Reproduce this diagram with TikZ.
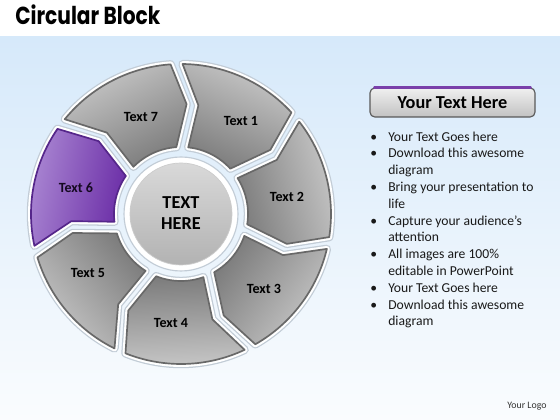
\documentclass[tikz,border=0pt]{standalone}
\usepackage{fontspec}
\setmainfont{Carlito}
\newfontfamily\titlefont{Poppins}

\definecolor{bgtop}{HTML}{D6E9FA}
\definecolor{bgbot}{HTML}{FAFCFE}
\definecolor{seglight}{HTML}{C8C8C8}
\definecolor{segdark}{HTML}{7C7C7C}
\definecolor{segline}{HTML}{686868}
\definecolor{purlight}{HTML}{AC8AD4}
\definecolor{purdark}{HTML}{6A2CA6}
\definecolor{purline}{HTML}{55268A}
\definecolor{glow}{HTML}{C2CCD6}
\definecolor{hdrline}{HTML}{7A40AA}

\tikzset{
  grayseg/.style={draw=segline, line width=1.2pt, top color=seglight, bottom color=segdark},
  purpleseg/.style={draw=purline, line width=1.2pt, top color=purlight, bottom color=purdark},
  seglabel/.style={font=\bfseries\fontsize{10}{12}\selectfont},
  hdrbox/.style={draw=black!65, line width=0.8pt, rounded corners=1.2mm,
    top color=black!6, bottom color=black!24,
    minimum width=41.25mm, minimum height=7.25mm,
    font=\bfseries\fontsize{13}{15}\selectfont},
}

\begin{document}
\begin{tikzpicture}[x=0.25mm, y=0.25mm]
  \useasboundingbox (0,0) rectangle (560,420);

  % 背景
  \fill[white] (0,0) rectangle (560,420);
  \shade[top color=bgtop, bottom color=bgbot] (0,0) rectangle (560,383);

  % 标题
  \node[anchor=base west, inner sep=0] (title) at (15,395)
    {\scalebox{0.82}[1]{\titlefont\bfseries\fontsize{17.5}{19}\selectfont Circular Block}};

  % 七个箭头块
  \begin{scope}[shift={(181,206)}]
    \foreach \i/\sty in {1/grayseg,2/grayseg,3/grayseg,4/grayseg,5/grayseg,6/purpleseg,7/grayseg} {
      \pgfmathsetmacro\A{91.7-51.43*(\i-1)}
      \pgfmathsetmacro\B{\A-51.43}
      \pgfmathsetmacro\sa{\A-25.7-90}
      \def\segpath{({\A-2.3}:150) arc[start angle={\A-2.3}, end angle={\B+2.3}, radius=150]
        -- ({\B-4.6}:110) -- ({\B+2.3}:67)
        arc[start angle={\B+2.3}, end angle={\A-7.9}, radius=67]
        -- ({\A-10.8}:110) -- cycle}
      \draw[glow, line width=6pt, line join=round] \segpath;
      \draw[white, line width=4.2pt, line join=round] \segpath;
      \path[\sty, shading angle=\sa, line join=round] \segpath;
    }

    \foreach \i/\x/\y/\c in {1/60/93/black, 2/106/17/black, 3/83/-75/black, 4/-10/-109/black,
                             5/-93/-59/black, 6/-105/26/{black!80!purdark}, 7/-40/97/black}
      \node[seglabel, text=\c] (t\i) at (\x,\y) {Text \i};

    % 中心圆
    \draw[glow, line width=0.8pt, fill=white] (0,0) circle[radius=57];
    \draw[black!20, line width=0.5pt, top color=black!15, bottom color=black!30]
      (0,0) circle[radius=51];
    \node[align=center, font=\bfseries\fontsize{13}{15}\selectfont] (ctr) at (0,1) {TEXT\\HERE};
  \end{scope}

  % 右侧文字
  \node[hdrbox] (hdr) at (452.5,317.5) {Your Text Here};
  \draw[hdrline, line width=1.6pt, line cap=round]
    ([xshift=1.2mm]hdr.north west) -- ([xshift=-1.2mm]hdr.north east);

  \node[anchor=north west, inner sep=0, text=black!90, font=\fontsize{9.7}{11.95}\selectfont]
    (txt) at (370,291) {%
    \begin{tabular}{@{}p{4.5mm}@{}l@{}}
      \textbullet & Your Text Goes here\\
      \textbullet & Download this awesome\\
                  & diagram\\
      \textbullet & Bring your presentation to\\
                  & life\\
      \textbullet & Capture your audience’s\\
                  & attention\\
      \textbullet & All images are 100\%\\
                  & editable in PowerPoint\\
      \textbullet & Your Text Goes here\\
      \textbullet & Download this awesome\\
                  & diagram
    \end{tabular}};

  \node[font=\fontsize{7}{8}\selectfont, text=black!80] (logo) at (527,14) {Your Logo};
\end{tikzpicture}
\end{document}
